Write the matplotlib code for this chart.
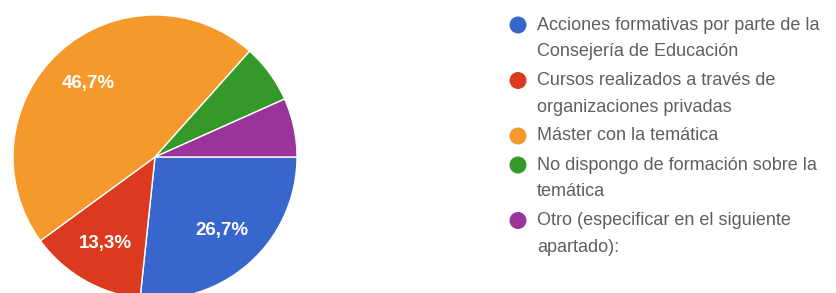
import matplotlib.pyplot as plt

categories = [
    "Acciones formativas por parte de la\nConsejería de Educación",
    "Cursos realizados a través de\norganizaciones privadas",
    "Máster con la temática",
    "No dispongo de formación sobre la\ntemática",
    "Otro (especificar en el siguiente\napartado):",
]
percent = [26.7, 13.3, 46.7, 6.7, 6.7]
colors = ["#3767cc", "#db3a1e", "#f5992c", "#35992a", "#9a339a"]

plt.rcParams["font.family"] = ["Liberation Sans", "DejaVu Sans"]

W, H = 837, 293
fig = plt.figure(figsize=(W / 100, H / 100), dpi=100)

# pie: centre ~(155,157) px from top-left, radius ~142 px
cx, cy, r = 155, 157, 142
ax = fig.add_axes([(cx - r) / W, (H - cy - r) / H, 2 * r / W, 2 * r / H])


def fmt(p):
    if p < 10:
        return ""
    return f"{p:.1f}%".replace(".", ",")


wedges, texts, autotexts = ax.pie(
    percent, colors=colors, startangle=0, counterclock=False,
    autopct=fmt, pctdistance=0.7,
    wedgeprops=dict(edgecolor="white", linewidth=1),
    textprops=dict(color="white", fontsize=13.5, fontweight="bold"),
)
ax.set_xlim(-1, 1)
ax.set_ylim(-1, 1)
ax.set_aspect("equal")

# legend drawn in pixel coordinates
lax = fig.add_axes([0, 0, 1, 1])
lax.set_xlim(0, W)
lax.set_ylim(H, 0)
lax.axis("off")
y = 25
for lab, col in zip(categories, colors):
    lax.scatter([518], [y], s=150, color=col, edgecolors="none")
    for line in lab.split("\n"):
        lax.text(537, y, line, fontsize=13, color="#5f5f5f",
                 va="center", ha="left")
        y += 26.5
    y += 2.5

fig.savefig("out.png", dpi=100, facecolor="white")
